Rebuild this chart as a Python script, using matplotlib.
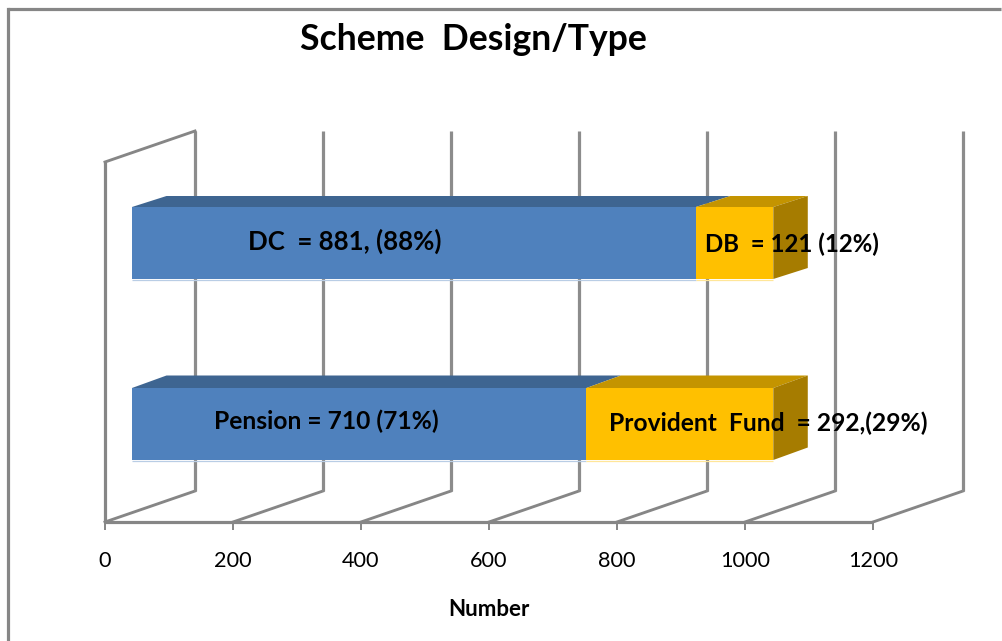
import matplotlib
matplotlib.use("Agg")
import matplotlib.pyplot as plt
from matplotlib.patches import Polygon

plt.rcParams['font.family'] = ['Lato', 'DejaVu Sans']

categories = ["Pension vs Provident Fund", "DC vs DB"]
first_values = [710, 881]
second_values = [292, 121]
first_labels = ["Pension = 710 (71%)", "DC  = 881, (88%)"]
second_labels = ["Provident  Fund  = 292,(29%)", "DB  = 121 (12%)"]
x_ticks = [0, 200, 400, 600, 800, 1000, 1200]
title = "Scheme  Design/Type"
x_label = "Number"

W, H = 1002, 641
SCALE = 0.64
X0 = 105
GREY = "#868686"
BLUE, BLUE_TOP = "#4F81BD", "#3E6591"
GOLD, GOLD_TOP, GOLD_SIDE = "#FFC000", "#C49400", "#A67C00"

fig = plt.figure(figsize=(W / 100, H / 100), dpi=100, facecolor="white")
ax = fig.add_axes([0, 0, 1, 1])
ax.set_xlim(-X0 / SCALE, (W - X0) / SCALE)
ax.set_ylim(H, 0)
ax.axis("off")

u = lambda px: px / SCALE            # pixel length to x units
lw3 = 2.3

# outer frame
ax.plot([u(8) - u(X0), u(8) - u(X0)], [H, 9], color=GREY, lw=lw3, solid_capstyle="projecting")
ax.plot([u(8) - u(X0), u(1001) - u(X0)], [9, 9], color=GREY, lw=lw3, solid_capstyle="butt")

# walls and floor
DX, FLOOR, FLOOR_BACK, TOP_BACK = u(90), 522, 491, 131
for t in x_ticks:
    ax.plot([t, t + DX], [FLOOR, FLOOR_BACK], color=GREY, lw=lw3 * 0.9)
    ax.plot([t + DX, t + DX], [FLOOR_BACK, TOP_BACK], color="#8C8C8C", lw=lw3, solid_capstyle="butt")
    ax.plot([t, t], [FLOOR, 530], color=GREY, lw=1.4, solid_capstyle="butt")
    ax.text(t, 561, str(t), ha="center", va="center", fontsize=15.6, color="black")
ax.plot([0, 0], [FLOOR, 162], color=GREY, lw=lw3, solid_capstyle="butt")
ax.plot([0, DX], [162, TOP_BACK], color=GREY, lw=lw3 * 0.9)
ax.plot([0, x_ticks[-1]], [FLOOR, FLOOR], color=GREY, lw=lw3, solid_capstyle="butt")

# 3-D stacked bars
OFFSET = u(27)
BDX = u(34.5)
centers = [424, 243]
height = 72
depths = [12.5, 11]
for c, a, b, d in zip(centers, first_values, second_values, depths):
    y0, y1 = c - height / 2, c + height / 2
    l, m, r = OFFSET, OFFSET + a, OFFSET + a + b
    ax.add_patch(Polygon([(l, y0), (l + BDX, y0 - d), (m + BDX, y0 - d), (m, y0)],
                         fc=BLUE_TOP, ec="none", zorder=3))
    ax.add_patch(Polygon([(m, y0), (m + BDX, y0 - d), (r + BDX, y0 - d), (r, y0)],
                         fc=GOLD_TOP, ec="none", zorder=3))
    ax.add_patch(Polygon([(r, y0), (r + BDX, y0 - d), (r + BDX, y1 - d), (r, y1)],
                         fc=GOLD_SIDE, ec="none", zorder=3))
    ax.barh(c, a, height=height, left=l, color=BLUE, zorder=4)
    ax.barh(c, b, height=height, left=m, color=GOLD, zorder=4)
    ax.plot([l, m], [y1 + 0.5, y1 + 0.5], color="#B9CDE5", lw=0.9, zorder=4, solid_capstyle="butt")
    ax.plot([m, r], [y1 + 0.5, y1 + 0.5], color="#FFE699", lw=0.9, zorder=4, solid_capstyle="butt")

# labels
lab = dict(ha="center", va="center", fontweight="bold", color="black", zorder=6)
ax.text(u(326.5 - X0), 421, first_labels[0], fontsize=17.7, **lab)
ax.text(u(345 - X0), 241, first_labels[1], fontsize=18.6, **lab)
ax.text(u(768.5 - X0), 423, second_labels[0], fontsize=17.7, **lab)
ax.text(u(792 - X0), 244, second_labels[1], fontsize=17.3, **lab)

ax.text(u(473 - X0), 40, title, ha="center", va="center", fontsize=25.6, fontweight="bold", color="black")
ax.text(u(489 - X0), 610, x_label, ha="center", va="center", fontsize=16, fontweight="bold", color="black")

fig.savefig("out.png", dpi=100, facecolor="white")
